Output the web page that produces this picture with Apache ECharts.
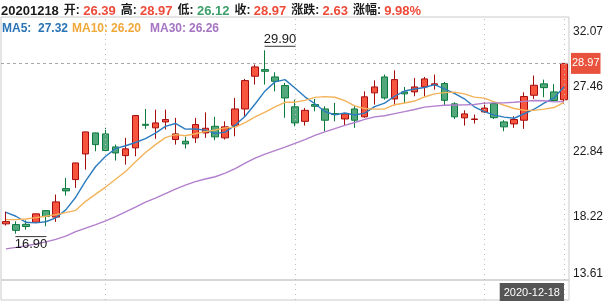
<!DOCTYPE html>
<html>
<head>
<meta charset="utf-8">
<script src="https://cdn.jsdelivr.net/npm/echarts@6/dist/echarts.min.js"></script>
<style>
  html, body { margin: 0; padding: 0; background: #fff; }
  #chart { width: 606px; height: 303px; }
</style>
</head>
<body>
<div id="chart"></div>
<script>
// === Data === //
const dates = [
  '2020-09-23', '2020-09-24', '2020-09-25', '2020-09-28', '2020-09-29', '2020-09-30',
  '2020-10-09', '2020-10-12', '2020-10-13', '2020-10-14', '2020-10-15', '2020-10-16',
  '2020-10-19', '2020-10-20', '2020-10-21', '2020-10-22', '2020-10-23', '2020-10-26',
  '2020-10-27', '2020-10-28', '2020-10-29', '2020-10-30', '2020-11-02', '2020-11-03',
  '2020-11-04', '2020-11-05', '2020-11-06', '2020-11-09', '2020-11-10', '2020-11-11',
  '2020-11-12', '2020-11-13', '2020-11-16', '2020-11-17', '2020-11-18', '2020-11-19',
  '2020-11-20', '2020-11-23', '2020-11-24', '2020-11-25', '2020-11-26', '2020-11-27',
  '2020-11-30', '2020-12-01', '2020-12-02', '2020-12-03', '2020-12-04', '2020-12-07',
  '2020-12-08', '2020-12-09', '2020-12-10', '2020-12-11', '2020-12-14', '2020-12-15',
  '2020-12-16', '2020-12-17', '2020-12-18'
]

// open, close, low, high
const ohlc = [
  [17.59, 17.75, 17.47, 18.46], [17.54, 17.13, 16.90, 17.77], [17.56, 17.40, 17.18, 17.84],
  [17.70, 18.30, 17.68, 18.32], [18.53, 18.11, 17.42, 18.57], [18.07, 19.15, 17.73, 19.67],
  [20.09, 19.93, 19.60, 20.85], [20.73, 21.91, 20.14, 21.93], [22.55, 24.11, 21.44, 24.13],
  [24.04, 23.21, 22.74, 24.06], [23.97, 22.79, 22.74, 24.40], [23.05, 22.62, 22.08, 23.21],
  [22.43, 22.91, 21.79, 23.69], [22.98, 25.27, 22.38, 25.29], [24.65, 24.58, 24.33, 25.74],
  [24.40, 24.75, 23.62, 25.69], [24.82, 24.99, 24.28, 25.69], [23.57, 23.97, 23.21, 25.11],
  [23.45, 23.26, 22.93, 23.76], [23.69, 24.63, 23.33, 25.11], [24.04, 24.37, 23.69, 25.50],
  [24.51, 23.76, 23.52, 25.18], [23.69, 24.47, 23.57, 24.86], [24.58, 25.74, 23.80, 26.52],
  [25.74, 27.75, 25.22, 27.87], [28.06, 28.72, 27.47, 28.89], [28.53, 28.41, 27.47, 29.90],
  [28.01, 27.70, 26.99, 28.34], [27.40, 26.52, 25.11, 27.59], [25.89, 24.75, 24.51, 26.40],
  [24.86, 25.64, 24.56, 25.81], [26.05, 25.93, 25.57, 26.45], [25.74, 24.94, 24.16, 25.93],
  [25.41, 25.34, 24.86, 26.17], [25.03, 25.39, 24.56, 25.43], [25.74, 24.94, 24.40, 25.98],
  [25.18, 26.60, 25.11, 26.99], [26.88, 27.30, 26.05, 27.77], [28.01, 26.52, 26.40, 28.18],
  [26.45, 27.82, 25.98, 28.48], [26.95, 26.81, 26.17, 27.30], [26.95, 27.30, 26.64, 27.94],
  [27.30, 27.87, 26.64, 28.01], [27.45, 27.52, 27.11, 28.18], [27.54, 26.35, 25.98, 27.66],
  [26.10, 25.18, 25.03, 26.21], [25.11, 25.39, 24.56, 25.64], [24.99, 25.03, 24.70, 25.34],
  [25.53, 25.80, 25.46, 26.21], [26.12, 25.12, 25.03, 26.17], [24.82, 24.47, 24.16, 24.94],
  [24.68, 24.99, 24.40, 25.22], [24.94, 26.62, 24.33, 26.92], [26.71, 27.42, 26.45, 28.11],
  [27.52, 27.25, 26.57, 27.82], [26.95, 26.34, 26.30, 27.50], [26.39, 28.97, 26.12, 28.97]
]

// averages before enough history is on screen
const ma5Head = [18.41, 18.13, 17.70, 17.66]
const ma10Head = [17.89, 17.89, 17.94, 18.03, 18.13, 18.25, 18.39, 18.55, 19.19]
const ma30Head = [
  15.82, 15.92, 16.03, 16.16, 16.31, 16.49, 16.72, 17.04, 17.29, 17.54,
  17.80, 18.11, 18.44, 18.78, 19.13, 19.42, 19.74, 20.06, 20.34, 20.59,
  20.77, 20.93, 21.19, 21.51, 21.90, 22.25, 22.54, 22.79, 23.03
]

const yTicks = [13.61, 18.22, 22.84, 27.46, 32.07]
const gridDates = ['2020-10-15', '2020-11-11', '2020-12-08']

// === Styles === //
const upColor = '#f8553f'
const upBorder = '#a60c0c'
const downColor = '#52a77c'
const downBorder = '#0b7a3d'
const redText = '#ee4a3a'
const greenText = '#3d9f69'
const maColors = ['#2c7bbf', '#f3b35a', '#b27fcd']
const maTextColors = ['#2a73b5', '#f0a83a', '#a574c2']
const font = "'Liberation Sans', 'Noto Sans CJK SC', sans-serif"

function map(arr, k) { return arr.map(d => d[k]) }
const closes = map(ohlc, 1)

const calcMA = (n, head) => closes.map((c, i) => {
  if (i < head.length) return head[i]
  let sum = 0
  for (let j = i - n + 1; j <= i; j++) sum += closes[j]
  return +(sum / n).toFixed(2)
})

const ma5 = calcMA(5, ma5Head)
const ma10 = calcMA(10, ma10Head)
const ma30 = calcMA(30, ma30Head)

const last = ohlc.length - 1
const [lOpen, lClose, lLow, lHigh] = ohlc[last]
const prevClose = closes[last - 1]
const change = lClose - prevClose
const pct = change / prevClose * 100

const highs = map(ohlc, 3)
const lows = map(ohlc, 2)
const hiIdx = highs.indexOf(Math.max(...highs))
const loIdx = lows.indexOf(Math.min(...lows))

const tone = v => (v >= prevClose ? 'u' : 'd')
const header = [
  `{k|${dates[last].replace(/-/g, '')}} `,
  `{c|开: }{${tone(lOpen)}|${lOpen.toFixed(2)}} `,
  `{c|高: }{${tone(lHigh)}|${lHigh.toFixed(2)}} `,
  `{c|低: }{${tone(lLow)}|${lLow.toFixed(2)}} `,
  `{c|收: }{${tone(lClose)}|${lClose.toFixed(2)}} `,
  `{c|涨跌: }{${change >= 0 ? 'u' : 'd'}|${change.toFixed(2)}} `,
  `{c|涨幅: }{${change >= 0 ? 'u' : 'd'}|${pct.toFixed(2)}%}`
].join('')

const maLine = [ma5, ma10, ma30]
  .map((d, i) => `{n${i}|MA${[5, 10, 30][i]}: }{v${i}|${d[last].toFixed(2)}}`)
  .join('')

// token widths keep the legend spaced like the original
const maRich = {}
const nameW = [36, 39, 39]
const valW = [34, 39, 34]
maTextColors.forEach((c, i) => {
  maRich['n' + i] = { fontSize: 12, color: c, fontFamily: font, width: nameW[i] }
  maRich['v' + i] = { fontSize: 12, color: c, fontFamily: font, width: valW[i] }
})

const dotted = { color: '#bcbcbc', type: [1, 4], width: 1 }

const chart = echarts.init(document.getElementById('chart'))

chart.setOption({
  animation: false,
  backgroundColor: '#fff',
  title: [
    {
      left: 1,
      top: 2,
      padding: 0,
      text: header,
      textStyle: {
        rich: {
          k: { fontSize: 13, color: '#1a1a1a', fontFamily: font },
          c: { fontSize: 12, color: '#1a1a1a', fontFamily: font },
          u: { fontSize: 13, color: redText, fontFamily: font },
          d: { fontSize: 13, color: greenText, fontFamily: font }
        }
      }
    },
    {
      left: 2,
      top: 23,
      padding: 0,
      text: maLine,
      textStyle: { rich: maRich }
    }
  ],
  grid: [
    { left: 1, right: 37, top: 17, bottom: 23, show: true, borderColor: '#cacaca', borderWidth: 1 },
    { left: 1, right: 37, top: 280, height: 20, show: true, borderColor: '#cacaca', borderWidth: 1 }
  ],
  xAxis: [
    {
      type: 'category',
      gridIndex: 0,
      data: dates,
      boundaryGap: true,
      z: 10,
      axisLine: { show: false },
      axisTick: { show: false },
      splitLine: { show: false },
      axisLabel: {
        interval: i => i === last,
        align: 'right',
        margin: 3,
        fontSize: 11,
        fontFamily: font,
        color: '#fff',
        backgroundColor: '#555',
        padding: [4, 4, 3, 4]
      }
    },
    {
      type: 'category',
      gridIndex: 1,
      data: dates,
      show: false
    }
  ],
  yAxis: [
    {
      type: 'value',
      gridIndex: 0,
      position: 'right',
      min: 13.61,
      max: 32.26,
      splitLine: { show: false },
      axisLine: { show: false },
      axisTick: { show: false },
      axisLabel: {
        customValues: yTicks,
        margin: 4,
        color: '#1a1a1a',
        fontSize: 12,
        fontFamily: font,
        formatter: v => {
          const s = v.toFixed(2)
          if (v === yTicks[yTicks.length - 1]) return `{t|${s}}`
          if (v === yTicks[0]) return `{b|${s}}`
          return `{m|${s}}`
        },
        rich: {
          t: { padding: [24, 0, 0, 0], fontSize: 12, fontFamily: font, color: '#1a1a1a' },
          b: { padding: [0, 0, 12, 0], fontSize: 12, fontFamily: font, color: '#1a1a1a' },
          m: { padding: [4, 0, 0, 0], fontSize: 12, fontFamily: font, color: '#1a1a1a' }
        }
      }
    },
    { type: 'value', gridIndex: 1, show: false, min: 0, max: 1 }
  ],
  series: [
    {
      name: 'K',
      type: 'candlestick',
      data: ohlc,
      barWidth: 7,
      itemStyle: {
        color: upColor,
        color0: downColor,
        borderColor: upBorder,
        borderColor0: downBorder,
        borderWidth: 1
      },
      markLine: {
        silent: true,
        symbol: ['none', 'none'],
        data: [
          ...gridDates.map(d => ({ xAxis: d, lineStyle: dotted, label: { show: false } })),
          { xAxis: dates[last], lineStyle: dotted, label: { show: false } },
          {
            yAxis: lClose,
            lineStyle: { color: '#a8a8a8', type: [3, 3], width: 1 },
            label: {
              show: true,
              position: 'end',
              distance: 2,
              formatter: lClose.toFixed(2),
              color: '#fff',
              backgroundColor: '#e8513c',
              fontSize: 11,
              fontFamily: font,
              padding: [5, 1, 5, 1]
            }
          }
        ]
      },
      markPoint: {
        silent: true,
        data: [
          {
            coord: [dates[hiIdx], highs[hiIdx]],
            value: highs[hiIdx],
            symbol: 'rect',
            symbolSize: [31, 1],
            symbolOffset: [15, -4],
            itemStyle: { color: '#333' },
            label: { show: true, position: 'top', distance: 0, color: '#1a1a1a', fontSize: 13, fontFamily: font, formatter: p => p.value.toFixed(2) }
          },
          {
            coord: [dates[loIdx], lows[loIdx]],
            value: lows[loIdx],
            symbol: 'rect',
            symbolSize: [31, 1],
            symbolOffset: [15, 3],
            itemStyle: { color: '#333' },
            label: { show: true, position: 'bottom', distance: 1, color: '#1a1a1a', fontSize: 13, fontFamily: font, formatter: p => p.value.toFixed(2) }
          }
        ]
      }
    },
    ...[ma5, ma10, ma30].map((d, i) => ({
      name: ['MA5', 'MA10', 'MA30'][i],
      type: 'line',
      data: d,
      showSymbol: false,
      symbol: 'none',
      z: 3,
      lineStyle: { color: maColors[i], width: 1.4 }
    })),
    {
      type: 'line',
      xAxisIndex: 1,
      yAxisIndex: 1,
      data: [],
      markLine: {
        silent: true,
        symbol: ['none', 'none'],
        data: [...gridDates, dates[last]].map(d => ({ xAxis: d, lineStyle: dotted, label: { show: false } }))
      }
    }
  ]
})
</script>
</body>
</html>
